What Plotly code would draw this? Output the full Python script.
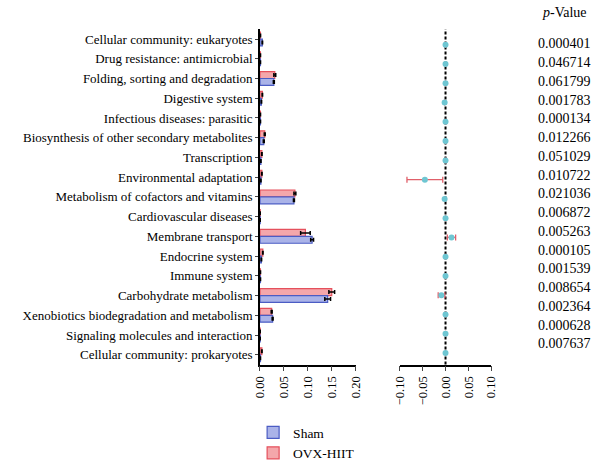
import plotly.graph_objects as go

categories = [
    "Cellular community: eukaryotes",
    "Drug resistance: antimicrobial",
    "Folding, sorting and degradation",
    "Digestive system",
    "Infectious diseases: parasitic",
    "Biosynthesis of other secondary metabolites",
    "Transcription",
    "Environmental adaptation",
    "Metabolism of cofactors and vitamins",
    "Cardiovascular diseases",
    "Membrane transport",
    "Endocrine system",
    "Immune system",
    "Carbohydrate metabolism",
    "Xenobiotics biodegradation and metabolism",
    "Signaling molecules and interaction",
    "Cellular community: prokaryotes",
]
sham = [0.005, 0.001, 0.029, 0.003, 0.001, 0.008, 0.002, 0.002, 0.071, 0.0005, 0.109, 0.003, 0.001, 0.1415, 0.0265, 0.0005, 0.001]
sham_err = [0.0005, 0.0002, 0.001, 0.0005, 0.0002, 0.001, 0.0003, 0.0003, 0.001, 0.0001, 0.003, 0.0005, 0.0002, 0.006, 0.001, 0.0001, 0.0002]
ovx = [0.001, 0.001, 0.031, 0.005, 0.001, 0.010, 0.004, 0.004, 0.073, 0.0005, 0.095, 0.006, 0.001, 0.150, 0.0245, 0.0005, 0.004]
ovx_err = [0.0003, 0.0002, 0.002, 0.0005, 0.0002, 0.001, 0.0005, 0.0005, 0.002, 0.0001, 0.010, 0.0005, 0.0002, 0.006, 0.001, 0.0001, 0.0005]
diff = [0.0, 0.0, 0.0, -0.002, 0.0, 0.0, 0.0, -0.045, -0.002, 0.0, 0.013, 0.0, 0.0, -0.009, 0.0, 0.0, 0.0]
diff_lo = [0.0, 0.0, 0.0, -0.002, 0.0, 0.0, 0.0, -0.084, -0.002, 0.0, 0.004, 0.0, 0.0, -0.016, 0.0, 0.0, 0.0]
diff_hi = [0.0, 0.0, 0.0, -0.002, 0.0, 0.0, 0.0, -0.006, -0.002, 0.0, 0.022, 0.0, 0.0, -0.0015, 0.0, 0.0, 0.0]
p_values = ["0.000401", "0.046714", "0.061799", "0.001783", "0.000134", "0.012266", "0.051029",
            "0.010722", "0.021036", "0.006872", "0.005263", "0.000105", "0.001539", "0.008654",
            "0.002364", "0.000628", "0.007637"]
left_ticks = [0.0, 0.05, 0.10, 0.15, 0.20]
right_ticks = [-0.10, -0.05, 0.0, 0.05, 0.10]

FONT = "Liberation Serif"
W, H = 600, 469

def px_x(p):
    return p / W

def px_y(p):
    return 1 - p / H

fig = go.Figure()

fig.add_trace(go.Bar(
    y=categories, x=ovx, orientation="h", name="OVX-HIIT",
    marker=dict(color="#f4a7ab", line=dict(color="#e5505c", width=1.2)),
    error_x=dict(type="data", array=ovx_err, color="black", thickness=1.5, width=2),
    legendrank=2, xaxis="x", yaxis="y",
))
fig.add_trace(go.Bar(
    y=categories, x=sham, orientation="h", name="Sham",
    marker=dict(color="#aab3e8", line=dict(color="#4b5cc4", width=1.2)),
    error_x=dict(type="data", array=sham_err, color="black", thickness=1.5, width=2),
    legendrank=1, xaxis="x", yaxis="y",
))

idx = list(range(len(categories)))
fig.add_trace(go.Scatter(
    x=diff, y=idx, mode="markers", showlegend=False,
    marker=dict(color="#6ec6d2", size=6),
    error_x=dict(type="data", symmetric=False,
                 array=[h - d for h, d in zip(diff_hi, diff)],
                 arrayminus=[d - l for d, l in zip(diff, diff_lo)],
                 color="#e0606a", thickness=1.3, width=3),
    xaxis="x2", yaxis="y2",
))

fig.add_shape(type="line", xref="x2", yref="paper", x0=0, x1=0,
              y0=px_y(375), y1=px_y(30),
              line=dict(color="black", width=2, dash="3px,2px"), layer="below")

ann = [dict(x=px_x(571), y=px_y(13), xref="paper", yref="paper",
            xanchor="center", yanchor="middle",
            text="<i>p</i>-Value", showarrow=False,
            font=dict(family=FONT, size=14, color="black"))]
for i, pv in enumerate(p_values):
    ann.append(dict(x=px_x(571), y=px_y(45 + 19.3 * i), xref="paper", yref="paper",
                    xanchor="center", yanchor="middle",
                    text=pv, showarrow=False,
                    font=dict(family=FONT, size=14, color="black")))

fig.update_layout(
    width=W, height=H, margin=dict(l=0, r=0, t=0, b=0),
    plot_bgcolor="white", paper_bgcolor="white",
    barmode="group", bargap=0.3, bargroupgap=0.0,
    font=dict(family=FONT, size=12.5, color="black"),
    xaxis=dict(domain=[px_x(259), px_x(357)], range=[0, 0.2], tickvals=left_ticks,
               tickformat=".2f", tickangle=-90, ticks="outside", ticklen=5,
               showline=True, linecolor="black", linewidth=1.5, showgrid=False,
               zeroline=False, anchor="y", tickfont=dict(family=FONT, size=12.5)),
    yaxis=dict(domain=[px_y(375), px_y(30)], categoryorder="array", categoryarray=categories,
               autorange="reversed", ticks="outside", ticklen=3, showline=True,
               linecolor="black", linewidth=1.5, showgrid=False, anchor="x",
               tickfont=dict(family=FONT, size=13)),
    xaxis2=dict(domain=[px_x(402), px_x(496)], range=[-0.1, 0.1], tickvals=right_ticks,
                ticktext=["\u22120.10", "\u22120.05", "0.00", "0.05", "0.10"],
                tickangle=-90, ticks="outside", ticklen=5, showline=True,
                linecolor="black", linewidth=1.5, showgrid=False, zeroline=False,
                anchor="y2", tickfont=dict(family=FONT, size=12.5)),
    yaxis2=dict(domain=[px_y(375), px_y(30)], range=[16.6, -0.81], showticklabels=False,
                showline=False, showgrid=False, zeroline=False, ticks="", anchor="x2"),
    legend=dict(x=px_x(252), y=px_y(429), xanchor="left", yanchor="top",
                font=dict(family=FONT, size=13.5), tracegroupgap=2,
                bgcolor="rgba(0,0,0,0)"),
    annotations=ann,
)

fig.write_html("out.html")
